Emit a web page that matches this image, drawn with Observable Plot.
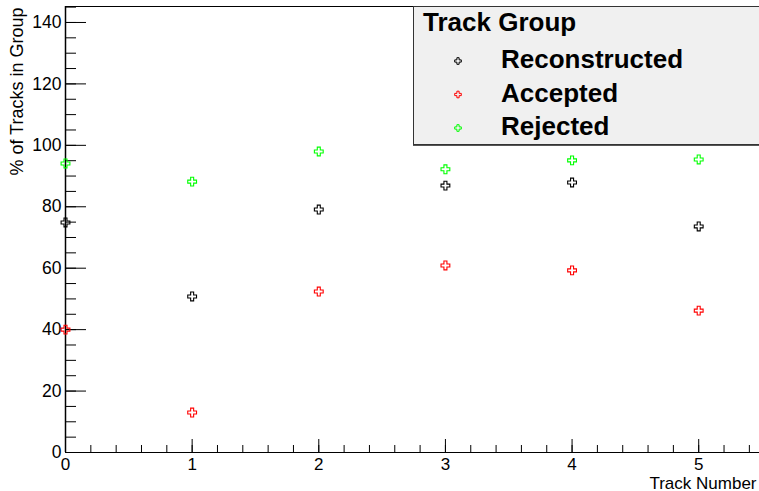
<!DOCTYPE html>
<html><head><meta charset="utf-8">
<script src="https://cdn.jsdelivr.net/npm/d3@7"></script>
<script src="https://cdn.jsdelivr.net/npm/@observablehq/plot@0.6"></script>
<style>
body{margin:0;background:#fff;}
#wrap{position:relative;width:759px;height:491px;overflow:hidden;font-family:"Liberation Sans",Arial,sans-serif;}
#legend{position:absolute;left:413px;top:6px;}
</style></head><body><div id="wrap"></div>
<script>
const trackNumbers = [0, 1, 2, 3, 4, 5];
const reconstructed = [74.9, 50.8, 79.1, 86.9, 87.9, 73.6];
const accepted = [40.0, 13.0, 52.4, 60.9, 59.3, 46.2];
const rejected = [94.1, 88.2, 98.0, 92.2, 95.1, 95.4];
const groups = ["Reconstructed", "Accepted", "Rejected"];
const colors = ["#000000", "#ff0000", "#00ff00"];
const yTop = 145.2, xRight = 5.48;
const yMajor = [0, 20, 40, 60, 80, 100, 120, 140];
const yMinor = d3.range(0, 145.01, 5);
const xMajor = [0, 1, 2, 3, 4, 5];
const xMinor = d3.range(0, 55).map(i => i / 5).filter(v => v <= 5.41);
const legendTitle = "Track Group";
const xLabel = "Track Number";
const yLabel = "% of Tracks in Group";

const series = [reconstructed, accepted, rejected];
const data = trackNumbers.flatMap((t, i) => groups.map((g, k) => ({t, v: series[k][i], g})));

function crossSymbol(ratio) {
  return {draw(ctx, size) {
    const r = Math.sqrt(size / Math.PI), a = r * ratio;
    ctx.moveTo(-a, -r); ctx.lineTo(a, -r); ctx.lineTo(a, -a); ctx.lineTo(r, -a);
    ctx.lineTo(r, a); ctx.lineTo(a, a); ctx.lineTo(a, r); ctx.lineTo(-a, r);
    ctx.lineTo(-a, a); ctx.lineTo(-r, a); ctx.lineTo(-r, -a); ctx.lineTo(-a, -a);
    ctx.closePath();
  }};
}
const cross = crossSymbol(0.34);

const chart = Plot.plot({
  width: 759, height: 491,
  marginLeft: 65, marginTop: 6, marginBottom: 39, marginRight: 0,
  x: {domain: [0, xRight]},
  y: {domain: [0, yTop]},
  color: {domain: groups, range: colors},
  style: {fontFamily: "'Liberation Sans', Arial, sans-serif", background: "white", color: "black"},
  marks: [
    Plot.axisY({ticks: yMinor, tickSize: -11, tickFormat: () => "", label: null}),
    Plot.axisY({ticks: yMajor, tickSize: -21, tickFormat: () => "", label: null}),
    Plot.axisY({ticks: yMajor, tickSize: 0, tickPadding: 4, fontSize: 17.5, tickFormat: d3.format("d"), label: null}),
    Plot.axisX({ticks: xMinor, tickSize: -7, tickFormat: () => "", label: null}),
    Plot.axisX({ticks: xMajor, tickSize: -13, tickFormat: () => "", label: null}),
    Plot.axisX({ticks: xMajor, tickSize: 0, tickPadding: 5, fontSize: 17, tickFormat: d3.format("d"), label: xLabel, labelAnchor: "right", labelArrow: false, labelOffset: 36}),
    Plot.ruleX([0], {strokeWidth: 1.5}),
    Plot.ruleY([0], {strokeWidth: 1.2}),
    Plot.ruleY([yTop], {strokeWidth: 1.2}),
    Plot.text([yLabel], {frameAnchor: "top-left", rotate: -90, textAnchor: "end", lineAnchor: "bottom", dx: -43, dy: 1, fontSize: 18}),
    Plot.dot(data, {x: "t", y: "v", stroke: "g", symbol: cross, r: 4.4, strokeWidth: 1.1})
  ]
});
const wrap = document.getElementById("wrap");
wrap.appendChild(chart);

// legend
const ns = "http://www.w3.org/2000/svg";
const lg = document.createElementNS(ns, "svg");
lg.setAttribute("id", "legend");
lg.setAttribute("width", 346); lg.setAttribute("height", 141);
const rect = document.createElementNS(ns, "rect");
Object.entries({x: 0.5, y: 0.5, width: 360, height: 138, fill: "#f0f0f0", stroke: "#333", "stroke-width": 1}).forEach(([k, v]) => rect.setAttribute(k, v));
lg.appendChild(rect);
const shadow = document.createElementNS(ns, "line");
Object.entries({x1: 0, x2: 360, y1: 139.5, y2: 139.5, stroke: "#555", "stroke-width": 1}).forEach(([k, v]) => shadow.setAttribute(k, v));
lg.appendChild(shadow);
function addText(str, x, y) {
  const t = document.createElementNS(ns, "text");
  t.setAttribute("x", x); t.setAttribute("y", y);
  t.setAttribute("font-family", "'Liberation Sans', Arial, sans-serif");
  t.setAttribute("font-weight", "bold"); t.setAttribute("font-size", 26);
  t.textContent = str; lg.appendChild(t);
}
addText(legendTitle, 10, 25);
const sym = d3.symbol(crossSymbol(0.34), Math.PI * 3.3 * 3.3);
groups.forEach((g, k) => {
  const y0 = 55 + k * 33.5;
  const p = document.createElementNS(ns, "path");
  p.setAttribute("d", sym()); p.setAttribute("transform", `translate(45,${y0})`);
  p.setAttribute("fill", "none"); p.setAttribute("stroke", colors[k]); p.setAttribute("stroke-width", 1);
  lg.appendChild(p);
  addText(g, 88, y0 + 7);
});
wrap.appendChild(lg);
</script></body></html>
